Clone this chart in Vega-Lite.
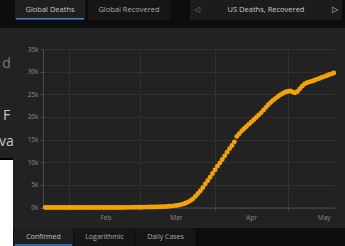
{
  "$schema": "https://vega.github.io/schema/vega-lite/v6.json",
  "background": "#222222",
  "padding": 0,
  "spacing": 0,
  "config": {
    "view": {"stroke": null},
    "concat": {"spacing": 0},
    "font": "Open Sans",
    "text": {"font": "Open Sans"}
  },
  "vconcat": [
    {
      "spacing": 0,
      "vconcat": [
        {
          "spacing": 0,
          "hconcat": [
            {"width": 15, "height": 20, "view": {"fill": "#0d0d0d", "stroke": null}, "data": {"values": [{}]}, "mark": {"type": "text", "text": "", "fontSize": 1}},
            {
              "width": 68, "height": 20, "view": {"fill": "#1f1f1f", "stroke": null},
              "data": {"values": [{"t": "Global Deaths"}]},
              "layer": [
                {"mark": {"type": "text", "color": "#c4c4c4", "fontSize": 7.5}, "encoding": {"text": {"field": "t"}}},
                {"mark": {"type": "rule", "color": "#3b82d6", "strokeWidth": 1.5}, "encoding": {"y": {"datum": 0.06, "type": "quantitative", "scale": {"domain": [0, 1]}, "axis": null}}}
              ]
            },
            {"width": 3, "height": 20, "view": {"fill": "#0d0d0d", "stroke": null}, "data": {"values": [{}]}, "mark": {"type": "text", "text": "", "fontSize": 1}},
            {
              "width": 82, "height": 20, "view": {"fill": "#161616", "stroke": null},
              "data": {"values": [{"t": "Global Recovered"}]},
              "mark": {"type": "text", "color": "#a9a9a9", "fontSize": 7.5},
              "encoding": {"text": {"field": "t"}}
            },
            {"width": 20, "height": 20, "view": {"fill": "#0d0d0d", "stroke": null}, "data": {"values": [{}]}, "mark": {"type": "text", "text": "", "fontSize": 1}},
            {
              "width": 152, "height": 20, "view": {"fill": "#1c1c1c", "stroke": null},
              "data": {"values": [{"t": "◁", "p": "l"}, {"t": "US Deaths, Recovered", "p": "c"}, {"t": "▷", "p": "r"}]},
              "mark": {"type": "text", "fontSize": 7.5},
              "encoding": {
                "text": {"field": "t"},
                "x": {"field": "p", "type": "nominal", "scale": {"type": "point", "domain": ["l", "c", "r"], "padding": 0.1}, "axis": null},
                "color": {"field": "p", "type": "nominal", "scale": {"domain": ["l", "c", "r"], "range": ["#7a7a7a", "#c8c8c8", "#c8c8c8"]}, "legend": null}
              }
            },
            {"width": 5, "height": 20, "view": {"fill": "#0d0d0d", "stroke": null}, "data": {"values": [{}]}, "mark": {"type": "text", "text": "", "fontSize": 1}}
          ]
        },
        {"width": 345, "height": 8, "view": {"fill": "#0d0d0d", "stroke": null}, "data": {"values": [{}]}, "mark": {"type": "text", "text": "", "fontSize": 1}}
      ]
    },
    {
      "spacing": 0,
      "hconcat": [
        {
          "spacing": 0,
          "vconcat": [
            {
              "width": 13, "height": 130, "view": {"fill": "#222222", "stroke": null},
              "data": {"values": [{"t": "d", "k": "d"}, {"t": "F", "k": "F"}, {"t": "va", "k": "va"}]},
              "mark": {"type": "text", "fontSize": 14, "clip": true},
              "encoding": {
                "text": {"field": "t"},
                "y": {"field": "k", "type": "nominal", "scale": {"type": "point", "domain": ["d", "_", "F", "va"], "padding": 1.21, "align": 0.7}, "axis": null},
                "color": {"field": "k", "type": "nominal", "scale": {"domain": ["d", "F", "va"], "range": ["#d6c8a6", "#3a8ee6", "#d0d0d0"]}, "legend": null}
              }
            },
            {"width": 13, "height": 2, "view": {"fill": "#000000", "stroke": null}, "data": {"values": [{}]}, "mark": {"type": "text", "text": "", "fontSize": 1}},
            {"width": 13, "height": 68, "view": {"fill": "#ffffff", "stroke": null}, "data": {"values": [{}]}, "mark": {"type": "text", "text": "", "fontSize": 1}}
          ]
        },
        {
          "spacing": 0,
          "vconcat": [
            {"width": 10, "height": 18, "data": {"values": [{}]}, "mark": {"type": "text", "text": "", "fontSize": 1}},
            {
              "width": 292,
              "height": 158.5,
              "data": {"values": [
                {"date": "2020-01-22", "value": 0}, {"date": "2020-01-23", "value": 0}, {"date": "2020-01-24", "value": 0}, {"date": "2020-01-25", "value": 0}, {"date": "2020-01-26", "value": 0},
                {"date": "2020-01-27", "value": 0}, {"date": "2020-01-28", "value": 0}, {"date": "2020-01-29", "value": 0}, {"date": "2020-01-30", "value": 0}, {"date": "2020-01-31", "value": 0},
                {"date": "2020-02-01", "value": 0}, {"date": "2020-02-02", "value": 0}, {"date": "2020-02-03", "value": 0}, {"date": "2020-02-04", "value": 0}, {"date": "2020-02-05", "value": 0},
                {"date": "2020-02-06", "value": 0}, {"date": "2020-02-07", "value": 0}, {"date": "2020-02-08", "value": 0}, {"date": "2020-02-09", "value": 0}, {"date": "2020-02-10", "value": 0},
                {"date": "2020-02-11", "value": 0}, {"date": "2020-02-12", "value": 0}, {"date": "2020-02-13", "value": 0}, {"date": "2020-02-14", "value": 0}, {"date": "2020-02-15", "value": 1},
                {"date": "2020-02-16", "value": 1}, {"date": "2020-02-17", "value": 2}, {"date": "2020-02-18", "value": 3}, {"date": "2020-02-19", "value": 5}, {"date": "2020-02-20", "value": 7},
                {"date": "2020-02-21", "value": 10}, {"date": "2020-02-22", "value": 13}, {"date": "2020-02-23", "value": 16}, {"date": "2020-02-24", "value": 20}, {"date": "2020-02-25", "value": 24},
                {"date": "2020-02-26", "value": 29}, {"date": "2020-02-27", "value": 35}, {"date": "2020-02-28", "value": 42}, {"date": "2020-02-29", "value": 50},
                {"date": "2020-03-01", "value": 60}, {"date": "2020-03-02", "value": 70}, {"date": "2020-03-03", "value": 80}, {"date": "2020-03-04", "value": 90}, {"date": "2020-03-05", "value": 100},
                {"date": "2020-03-06", "value": 110}, {"date": "2020-03-07", "value": 120}, {"date": "2020-03-08", "value": 130}, {"date": "2020-03-09", "value": 150}, {"date": "2020-03-10", "value": 170},
                {"date": "2020-03-11", "value": 190}, {"date": "2020-03-12", "value": 220}, {"date": "2020-03-13", "value": 260}, {"date": "2020-03-14", "value": 310}, {"date": "2020-03-15", "value": 370},
                {"date": "2020-03-16", "value": 430}, {"date": "2020-03-17", "value": 520}, {"date": "2020-03-18", "value": 640}, {"date": "2020-03-19", "value": 800}, {"date": "2020-03-20", "value": 1000},
                {"date": "2020-03-21", "value": 1250}, {"date": "2020-03-22", "value": 1550}, {"date": "2020-03-23", "value": 1950}, {"date": "2020-03-24", "value": 2500}, {"date": "2020-03-25", "value": 3100},
                {"date": "2020-03-26", "value": 3700}, {"date": "2020-03-27", "value": 4400}, {"date": "2020-03-28", "value": 5200}, {"date": "2020-03-29", "value": 5900}, {"date": "2020-03-30", "value": 6700},
                {"date": "2020-03-31", "value": 7500},
                {"date": "2020-04-01", "value": 8300}, {"date": "2020-04-02", "value": 9100}, {"date": "2020-04-03", "value": 9850}, {"date": "2020-04-04", "value": 10600}, {"date": "2020-04-05", "value": 11400},
                {"date": "2020-04-06", "value": 12200}, {"date": "2020-04-07", "value": 13000}, {"date": "2020-04-08", "value": 13700}, {"date": "2020-04-09", "value": 14500}, {"date": "2020-04-10", "value": 15700},
                {"date": "2020-04-11", "value": 16300}, {"date": "2020-04-12", "value": 16900}, {"date": "2020-04-13", "value": 17400}, {"date": "2020-04-14", "value": 17900}, {"date": "2020-04-15", "value": 18400},
                {"date": "2020-04-16", "value": 18900}, {"date": "2020-04-17", "value": 19400}, {"date": "2020-04-18", "value": 19900}, {"date": "2020-04-19", "value": 20400}, {"date": "2020-04-20", "value": 20900},
                {"date": "2020-04-21", "value": 21500}, {"date": "2020-04-22", "value": 22100}, {"date": "2020-04-23", "value": 22700}, {"date": "2020-04-24", "value": 23200}, {"date": "2020-04-25", "value": 23700},
                {"date": "2020-04-26", "value": 24100}, {"date": "2020-04-27", "value": 24500}, {"date": "2020-04-28", "value": 24900}, {"date": "2020-04-29", "value": 25200}, {"date": "2020-04-30", "value": 25500},
                {"date": "2020-05-01", "value": 25600}, {"date": "2020-05-02", "value": 25750}, {"date": "2020-05-03", "value": 25500}, {"date": "2020-05-04", "value": 25350}, {"date": "2020-05-05", "value": 25600},
                {"date": "2020-05-06", "value": 26200}, {"date": "2020-05-07", "value": 26800}, {"date": "2020-05-08", "value": 27300}, {"date": "2020-05-09", "value": 27550}, {"date": "2020-05-10", "value": 27750},
                {"date": "2020-05-11", "value": 27900}, {"date": "2020-05-12", "value": 28100}, {"date": "2020-05-13", "value": 28300}, {"date": "2020-05-14", "value": 28500}, {"date": "2020-05-15", "value": 28700},
                {"date": "2020-05-16", "value": 28900}, {"date": "2020-05-17", "value": 29100}, {"date": "2020-05-18", "value": 29300}, {"date": "2020-05-19", "value": 29500}, {"date": "2020-05-20", "value": 29700}
              ]},
              "mark": {"type": "circle", "size": 24, "opacity": 1, "color": "#f5a300"},
              "encoding": {
                "x": {
                  "field": "date", "type": "temporal",
                  "scale": {"type": "utc", "domain": [{"year": 2020, "month": 1, "date": 21, "hours": 2, "utc": true}, {"year": 2020, "month": 5, "date": 20, "hours": 12, "utc": true}]},
                  "axis": {
                    "title": null, "format": "%b", "tickCount": "month",
                    "labelOffset": 36, "labelFlush": false, "labelOverlap": false,
                    "grid": true, "gridColor": "#303030",
                    "tickColor": "#4a4a4a", "tickSize": 3, "domainColor": "#4a4a4a",
                    "labelColor": "#8c8c8c", "labelFontSize": 6.5, "labelPadding": 4,
                    "minExtent": 20, "maxExtent": 20
                  }
                },
                "y": {
                  "field": "value", "type": "quantitative",
                  "scale": {"domain": [0, 35000], "nice": false, "zero": true},
                  "axis": {
                    "title": null, "values": [0, 5000, 10000, 15000, 20000, 25000, 30000, 35000], "format": "~s",
                    "grid": true, "gridColor": "#303030", "domain": true, "domainColor": "#4a4a4a",
                    "tickColor": "#4a4a4a", "tickSize": 3, "labelOverlap": false,
                    "labelColor": "#8c8c8c", "labelFontSize": 6.5, "labelPadding": 2,
                    "minExtent": 30, "maxExtent": 30
                  }
                }
              }
            }
          ]
        }
      ]
    },
    {
      "spacing": 0,
      "hconcat": [
        {"width": 13, "height": 18, "view": {"fill": "#ffffff", "stroke": null}, "data": {"values": [{}]}, "mark": {"type": "text", "text": "", "fontSize": 1}},
        {"width": 1, "height": 18, "view": {"fill": "#0d0d0d", "stroke": null}, "data": {"values": [{}]}, "mark": {"type": "text", "text": "", "fontSize": 1}},
        {
          "width": 57, "height": 18, "view": {"fill": "#1f1f1f", "stroke": null},
          "data": {"values": [{"t": "Confirmed"}]},
          "layer": [
            {"mark": {"type": "text", "color": "#c4c4c4", "fontSize": 7}, "encoding": {"text": {"field": "t"}}},
            {"mark": {"type": "rule", "color": "#3b82d6", "strokeWidth": 1.5}, "encoding": {"y": {"datum": 0.06, "type": "quantitative", "scale": {"domain": [0, 1]}, "axis": null}}}
          ]
        },
        {"width": 1, "height": 18, "view": {"fill": "#0d0d0d", "stroke": null}, "data": {"values": [{}]}, "mark": {"type": "text", "text": "", "fontSize": 1}},
        {
          "width": 61, "height": 18, "view": {"fill": "#161616", "stroke": null},
          "data": {"values": [{"t": "Logarithmic"}]},
          "mark": {"type": "text", "color": "#a9a9a9", "fontSize": 7},
          "encoding": {"text": {"field": "t"}}
        },
        {"width": 1, "height": 18, "view": {"fill": "#0d0d0d", "stroke": null}, "data": {"values": [{}]}, "mark": {"type": "text", "text": "", "fontSize": 1}},
        {
          "width": 59, "height": 18, "view": {"fill": "#161616", "stroke": null},
          "data": {"values": [{"t": "Daily Cases"}]},
          "mark": {"type": "text", "color": "#a9a9a9", "fontSize": 7},
          "encoding": {"text": {"field": "t"}}
        },
        {"width": 152, "height": 18, "view": {"fill": "#0d0d0d", "stroke": null}, "data": {"values": [{}]}, "mark": {"type": "text", "text": "", "fontSize": 1}}
      ]
    }
  ]
}
